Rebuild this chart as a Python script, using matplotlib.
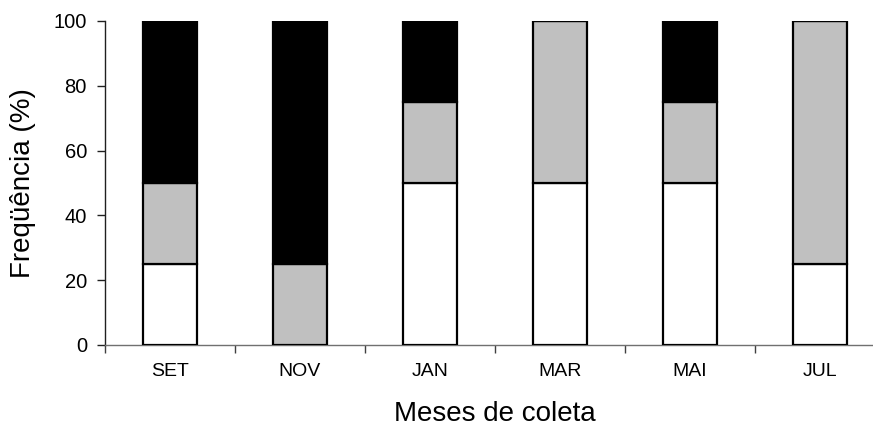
import matplotlib
matplotlib.use("Agg")
import matplotlib.pyplot as plt
import numpy as np

plt.rcParams['font.family'] = ['Liberation Sans', 'DejaVu Sans']

months = ["SET", "NOV", "JAN", "MAR", "MAI", "JUL"]
white_vals = [25, 0, 50, 50, 50, 25]
gray_vals = [25, 25, 25, 50, 25, 75]
black_vals = [50, 75, 25, 0, 25, 0]
yticks = [0, 20, 40, 60, 80, 100]

W, H = 873, 432
fig = plt.figure(figsize=(W / 100, H / 100), dpi=100)
ax = fig.add_axes([105 / W, (H - 345) / H, 780 / W, 324 / H])

x = np.arange(len(months))
w = 0.41
wv = np.array(white_vals)
gv = np.array(gray_vals)
bv = np.array(black_vals)
kw = dict(width=w, edgecolor="black", linewidth=1.6, zorder=3)
ax.bar(x, wv, color="white", **kw)
ax.bar(x, gv, bottom=wv, color="#c0c0c0", **kw)
ax.bar(x, bv, bottom=wv + gv, color="black", **kw)

ax.set_xlim(-0.5, len(months) - 0.5)
ax.set_ylim(0, 100)
ax.set_yticks(yticks)
ax.set_yticklabels([str(v) for v in yticks], fontsize=14.5)
ax.set_xticks(x)
ax.set_xticklabels(months, fontsize=14)
ax.tick_params(axis="x", length=0, pad=13)
ax.set_xticks(np.arange(len(months) + 1) - 0.5, minor=True)
ax.tick_params(axis="x", which="minor", length=6, width=1, color="#404040", direction="out")
ax.tick_params(axis="y", length=6, width=1, color="#202020", direction="out", pad=7)

for s in ["top", "right"]:
    ax.spines[s].set_visible(False)
ax.spines["left"].set_color("#202020")
ax.spines["bottom"].set_color("#707070")
ax.spines["left"].set_linewidth(1)
ax.spines["bottom"].set_linewidth(1)

fig.text(23 / W, 1 - 183 / H, "Freqüência (%)", rotation=90, fontsize=20,
         ha="center", va="center")
fig.text(495 / W, 1 - 414 / H, "Meses de coleta", fontsize=20,
         ha="center", va="center")

fig.savefig("out.png", dpi=100)
